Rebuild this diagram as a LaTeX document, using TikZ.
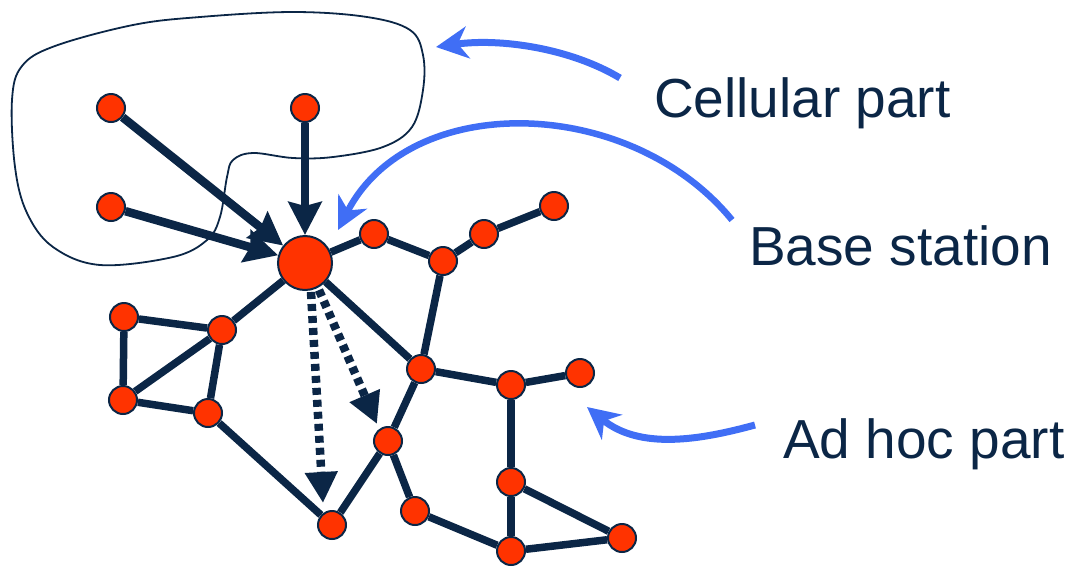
\documentclass[tikz,border=0pt]{standalone}
\usepackage{fontspec}
\setmainfont{Liberation Sans}
\usetikzlibrary{arrows.meta,backgrounds}
\definecolor{navy}{HTML}{0B2646}
\definecolor{nodered}{HTML}{FF3300}
\definecolor{blu}{HTML}{406EF5}
\begin{document}
\begin{tikzpicture}[x=1pt,y=-1pt,
  dot/.style={circle,draw=navy,line width=2pt,fill=nodered,minimum size=28pt,inner sep=0pt},
  bsdot/.style={dot,minimum size=54pt},
  link/.style={draw=navy,line width=7.5pt},
  uplink/.style={link,line width=8.5pt,-{Stealth[length=33pt,width=33pt,inset=4pt]}},
  downlink/.style={draw=navy,line width=8.5pt,dash pattern=on 7pt off 5pt,-{Triangle[length=31pt,width=31pt]}},
  callout/.style={draw=blu,line width=7pt,-{Stealth[length=32pt,width=32pt,inset=10pt]}},
  txt/.style={text=navy,font=\fontsize{55}{60}\selectfont,anchor=base west,inner sep=0pt},
  cellborder/.style={draw=navy,line width=1.8pt}]
\useasboundingbox (0,0) rectangle (1074,566);

% cellular region
\draw[cellborder] plot[smooth cycle, tension=0.6] coordinates {
  (12,100) (22,66) (55,46) (133,25) (200,17) (293,12) (367,17) (410,30)
  (423,55) (423,90) (412,127) (383,147) (333,157) (293,158) (253,153)
  (233,160) (227,177) (220,217) (207,240) (173,257) (100,265) (53,247)
  (27,213) (15,167)};

% nodes
\node[dot] (A1) at (111,108) {};
\node[dot] (A2) at (305,108) {};
\node[dot] (A3) at (111,207) {};
\node[bsdot] (BS) at (305,263) {};
\node[dot] (B1) at (374,234) {};
\node[dot] (B2) at (443,261) {};
\node[dot] (B3) at (484,234) {};
\node[dot] (B4) at (554,206) {};
\node[dot] (C1) at (124,317) {};
\node[dot] (C2) at (222,330) {};
\node[dot] (C3) at (123,400) {};
\node[dot] (C4) at (208,413) {};
\node[dot] (D1) at (421,369) {};
\node[dot] (D2) at (511,385) {};
\node[dot] (D3) at (580,373) {};
\node[dot] (E1) at (388,441) {};
\node[dot] (F1) at (332,525) {};
\node[dot] (G1) at (415,511) {};
\node[dot] (H1) at (511,482) {};
\node[dot] (H2) at (511,551) {};
\node[dot] (H3) at (622,538) {};

\begin{pgfonlayer}{background}
\draw[link] (BS) -- (B1);
\draw[link] (B1) -- (B2);
\draw[link] (B2) -- (B3);
\draw[link] (B3) -- (B4);
\draw[link] (BS) -- (C2);
\draw[link] (BS) -- (D1);
\draw[link] (B2) -- (D1);
\draw[link] (C1) -- (C2);
\draw[link] (C1) -- (C3);
\draw[link] (C3) -- (C2);
\draw[link] (C2) -- (C4);
\draw[link] (C3) -- (C4);
\draw[link] (C4) -- (F1);
\draw[link] (F1) -- (E1);
\draw[link] (E1) -- (D1);
\draw[link] (E1) -- (G1);
\draw[link] (G1) -- (H2);
\draw[link] (D1) -- (D2);
\draw[link] (D2) -- (D3);
\draw[link] (D2) -- (H1);
\draw[link] (H1) -- (H2);
\draw[link] (H1) -- (H3);
\draw[link] (H2) -- (H3);
\end{pgfonlayer}

% uplinks to base station
\draw[uplink] (A1) -- (BS);
\draw[uplink] (A3) -- (BS);
\draw[uplink] (A2) -- (BS);

% dashed downlinks
\coordinate (d1s) at (311,292);
\coordinate (d1e) at (323,503);
\coordinate (d2s) at (319,290);
\coordinate (d2e) at (377,424);
\draw[downlink] (d1s) -- (d1e);
\draw[downlink] (d2s) -- (d2e);

% labels
\node[txt] (cellular) at (654,117) {Cellular part};
\node[txt] (base) at (749,265) {Base station};
\node[txt] (adhoc) at (783,458) {Ad hoc part};

% callout arrows
\coordinate (c1s) at (620,78);
\coordinate (c1e) at (436,47);
\coordinate (c2s) at (732,220);
\coordinate (c2e) at (338,230);
\coordinate (c3s) at (755,425);
\coordinate (c3e) at (587,407);
\draw[callout] (c1s) .. controls (570,48) and (500,38) .. (c1e);
\draw[callout,line width=6.5pt] (c2s) .. controls (630,95) and (410,90) .. (c2e);
\draw[callout] (c3s) .. controls (700,440) and (640,450) .. (c3e);
\end{tikzpicture}
\end{document}
